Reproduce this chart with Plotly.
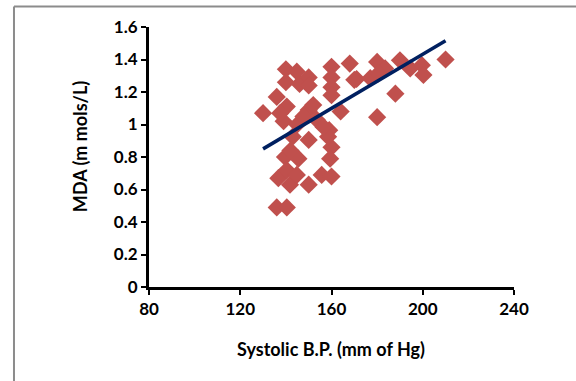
import plotly.graph_objects as go

sbp = [130, 136, 140, 140, 140.4, 139, 144.8, 146, 150, 150, 150, 145, 153.5, 143, 150,
       159, 160, 164, 160, 160, 160, 160, 168, 171, 139.6, 145.5, 136.7, 140.4, 141.8,
       144.8, 150, 155.7, 160, 159.4, 136, 140.4, 158.5, 156.5, 147.7, 180, 190, 183.5,
       194.5, 199.6, 200.3, 210, 170, 177, 180.6, 188, 180, 137.5, 152, 142]
mda = [1.07, 1.17, 1.34, 1.26, 1.11, 1.02, 1.325, 1.25, 1.29, 1.24, 1.09, 1.0, 1.03, 0.925,
       0.905, 0.965, 0.86, 1.08, 1.355, 1.29, 1.23, 1.18, 1.375, 1.28, 0.80, 0.79, 0.67,
       0.72, 0.63, 0.69, 0.63, 0.69, 0.68, 0.79, 0.49, 0.49, 0.925, 0.985, 1.05, 1.385,
       1.395, 1.345, 1.345, 1.365, 1.305, 1.40, 1.275, 1.285, 1.315, 1.19, 1.045, 1.07,
       1.12, 0.84]
trend_x = [130, 210]
trend_y = [0.85, 1.515]

x_ticks = [80, 120, 160, 200, 240]
y_ticks = [0, 0.2, 0.4, 0.6, 0.8, 1, 1.2, 1.4, 1.6]
y_tick_text = ["0", "0.2", "0.4", "0.6", "0.8", "1", "1.2", "1.4", "1.6"]

FONT = "Lato"
TFONT = dict(family=FONT, size=18, color="black", weight="bold")

fig = go.Figure()
fig.add_trace(go.Scatter(
    x=sbp, y=mda, mode="markers",
    marker=dict(symbol="diamond", size=14, color="#C0504D", line=dict(width=0)),
    showlegend=False, hoverinfo="skip"))
fig.add_trace(go.Scatter(
    x=trend_x, y=trend_y, mode="lines",
    line=dict(color="#002060", width=3.5), showlegend=False, hoverinfo="skip"))

axis_common = dict(
    showline=True, linecolor="black", linewidth=3, showgrid=False, zeroline=False,
    ticks="outside", ticklen=5, tickwidth=2, tickcolor="black", automargin=False,
    tickfont=dict(family=FONT, size=17, color="black", weight="bold"),
)
fig.update_xaxes(range=[80, 240], tickvals=x_ticks, ticktext=[str(v) for v in x_ticks],
                 **axis_common)
fig.update_yaxes(range=[0, 1.6], tickvals=y_ticks, ticktext=y_tick_text,
                 **axis_common)

fig.add_annotation(text="Systolic B.P. (mm of Hg)", xref="paper", yref="paper",
                   x=0.4986, y=-0.237, xanchor="center", yanchor="middle",
                   showarrow=False, font=TFONT)
fig.add_annotation(text="MDA (m mols/L)", xref="paper", yref="paper",
                   x=-0.189, y=0.538, xanchor="center", yanchor="middle",
                   textangle=-90, showarrow=False, font=TFONT)

# outer frame (only top and left edges are inside the picture)
frame = dict(color="#8C8C8C", width=2)
fig.add_shape(type="line", xref="paper", yref="paper",
              x0=-0.3699, x1=1.3, y0=1.0788, y1=1.0788, line=frame, layer="below")
fig.add_shape(type="line", xref="paper", yref="paper",
              x0=-0.3699, x1=-0.3699, y0=-0.5, y1=1.0788, line=frame, layer="below")

fig.add_annotation(text="Stressed and", xref="paper", yref="paper", x=-0.12, y=1.094,
                   xanchor="center", yanchor="bottom", showarrow=False,
                   font=dict(family=FONT, size=18, color="black", weight="bold"))
fig.add_annotation(text="Subjects", xref="paper", yref="paper", x=0.62, y=1.094,
                   xanchor="center", yanchor="bottom", showarrow=False,
                   font=dict(family=FONT, size=18, color="black", weight="bold"))

fig.update_layout(
    width=576, height=381,
    margin=dict(l=149, r=62, t=27, b=94),
    plot_bgcolor="white", paper_bgcolor="white",
    font=dict(family=FONT, color="black"),
)

fig.write_html(
    "out.html", config={"displayModeBar": False},
    post_script=("document.body.style.margin='0';"
                 "document.body.style.overflow='hidden';"
                 "document.documentElement.style.overflow='hidden';"))
